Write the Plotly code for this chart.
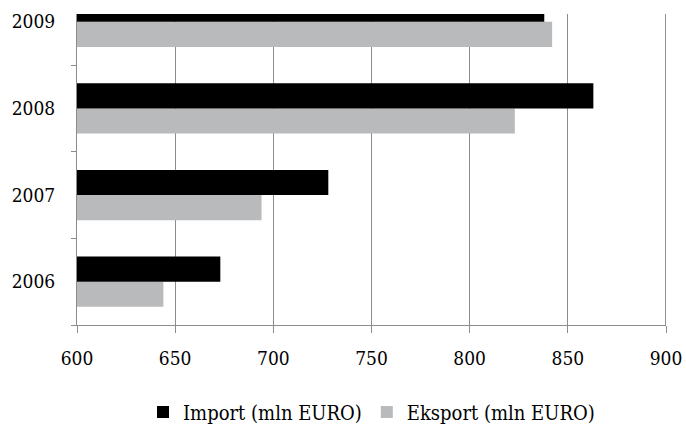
import plotly.graph_objects as go

years = ["2006", "2007", "2008", "2009"]
import_vals = [673, 728, 863, 838]
eksport_vals = [644, 694, 823, 842]
x_ticks = [600, 650, 700, 750, 800, 850, 900]

font_family = "DejaVu Serif Condensed, DejaVu Serif"

fig = go.Figure()
fig.add_trace(go.Bar(
    y=years, x=eksport_vals, orientation="h", name="Eksport (mln EURO)",
    marker=dict(color="#b9babc", line=dict(width=0)), legendrank=2,
))
fig.add_trace(go.Bar(
    y=years, x=import_vals, orientation="h", name="Import (mln EURO)",
    marker=dict(color="#000000", line=dict(width=0)), legendrank=1,
))

fig.update_layout(
    width=686, height=430,
    margin=dict(l=77, r=20, t=14, b=105, autoexpand=False),
    paper_bgcolor="white", plot_bgcolor="white",
    barmode="group", bargap=0.42, bargroupgap=0,
    font=dict(family=font_family, size=19, color="black"),
    showlegend=True,
    legend=dict(orientation="h", x=0.5, xanchor="center", y=-0.28, yanchor="middle",
                font=dict(family=font_family, size=20, color="black"), itemwidth=30,
                traceorder="normal"),
    xaxis=dict(range=[600, 900], tickvals=x_ticks, showgrid=True, gridcolor="#8c8c8c",
               gridwidth=1, showline=True, linecolor="#8c8c8c", ticks="outside",
               ticklen=7, tickcolor="#8c8c8c", zeroline=False, ticklabelstandoff=9,
               automargin=False, tickfont=dict(family=font_family, size=19)),
    yaxis=dict(type="category", categoryorder="array", categoryarray=years,
               range=[-0.5, 3.09], showline=True, linecolor="#8c8c8c",
               ticks="outside", tickson="boundaries", ticklen=5, tickcolor="#8c8c8c",
               showgrid=False, ticklabelstandoff=17, automargin=False,
               tickfont=dict(family=font_family, size=19)),
)
fig.add_shape(type="line", xref="x", yref="paper", x0=900, x1=900, y0=0, y1=1,
              line=dict(color="#6e6e6e", width=1.5))

fig.write_html("out.html")
